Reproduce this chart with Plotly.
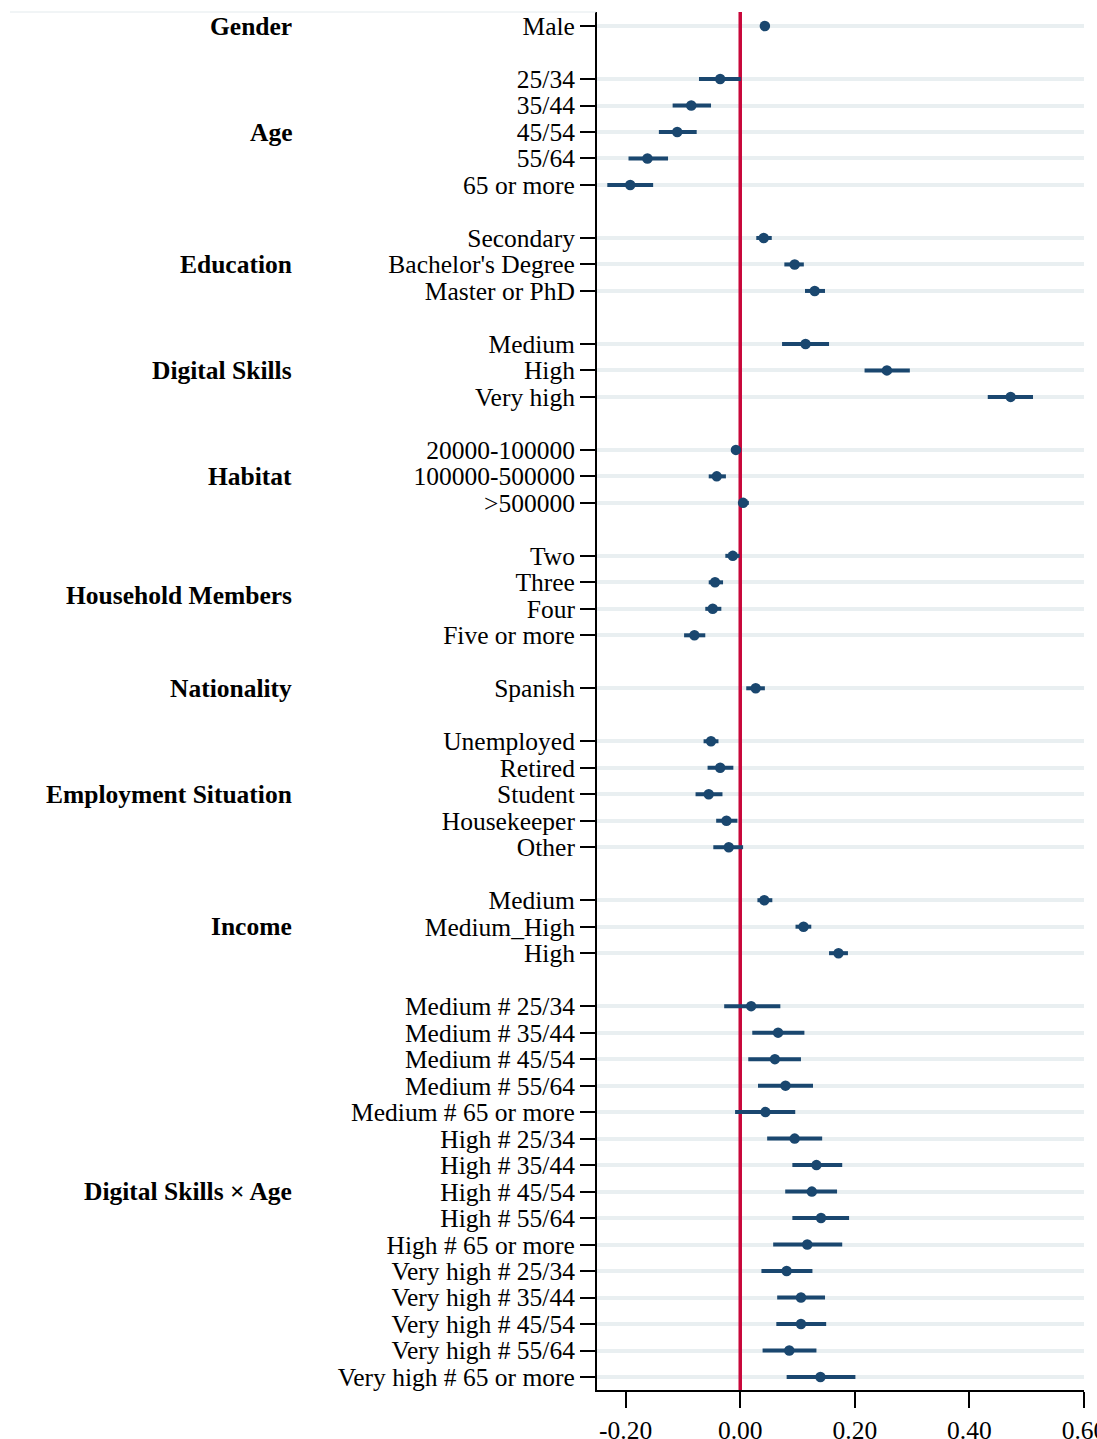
import plotly.graph_objects as go

# ---- model terms, grouped by factor ----
group_names = [
    "Gender", "Age", "Education", "Digital Skills", "Habitat",
    "Household Members", "Nationality", "Employment Situation", "Income",
    "Digital Skills × Age",
]
group_sizes = [1, 5, 3, 3, 3, 4, 1, 5, 3, 15]

terms = [
    "Male",
    "25/34", "35/44", "45/54", "55/64", "65 or more",
    "Secondary", "Bachelor's Degree", "Master or PhD",
    "Medium", "High", "Very high",
    "20000-100000", "100000-500000", ">500000",
    "Two", "Three", "Four", "Five or more",
    "Spanish",
    "Unemployed", "Retired", "Student", "Housekeeper", "Other",
    "Medium", "Medium_High", "High",
    "Medium # 25/34", "Medium # 35/44", "Medium # 45/54", "Medium # 55/64",
    "Medium # 65 or more",
    "High # 25/34", "High # 35/44", "High # 45/54", "High # 55/64",
    "High # 65 or more",
    "Very high # 25/34", "Very high # 35/44", "Very high # 45/54",
    "Very high # 55/64", "Very high # 65 or more",
]

coef = [
    0.043,
    -0.035, -0.0855, -0.110, -0.162, -0.192,
    0.041, 0.095, 0.130,
    0.114, 0.256, 0.472,
    -0.0075, -0.041, 0.005,
    -0.013, -0.044, -0.048, -0.080,
    0.027,
    -0.051, -0.035, -0.055, -0.024, -0.020,
    0.042, 0.1105, 0.1715,
    0.019, 0.066, 0.0605, 0.079, 0.044,
    0.095, 0.133, 0.125, 0.141, 0.117,
    0.081, 0.106, 0.106, 0.0856, 0.140,
]

ci_low = [
    0.037,
    -0.072, -0.118, -0.142, -0.195, -0.232,
    0.028, 0.077, 0.113,
    0.073, 0.217, 0.432,
    -0.016, -0.055, -0.001,
    -0.026, -0.055, -0.061, -0.098,
    0.0105,
    -0.064, -0.057, -0.078, -0.042, -0.047,
    0.030, 0.0965, 0.155,
    -0.028, 0.021, 0.014, 0.031, -0.009,
    0.047, 0.091, 0.0785, 0.091, 0.0575,
    0.037, 0.0645, 0.063, 0.039, 0.081,
]

ci_high = [
    0.049,
    0.001, -0.051, -0.076, -0.126, -0.152,
    0.055, 0.111, 0.148,
    0.155, 0.296, 0.511,
    0.001, -0.025, 0.015,
    -0.001, -0.030, -0.033, -0.061,
    0.043,
    -0.038, -0.012, -0.031, -0.005, 0.005,
    0.056, 0.124, 0.188,
    0.070, 0.112, 0.106, 0.127, 0.096,
    0.143, 0.178, 0.169, 0.190, 0.178,
    0.126, 0.148, 0.150, 0.133, 0.201,
]

x_tickvals = [-0.2, 0.0, 0.2, 0.4, 0.6]
x_ticktext = ["-0.20", "0.00", "0.20", "0.40", "0.60"]

# ---- row positions: one blank row between factor groups ----
positions = []
group_centers = []
row = 0
for n in group_sizes:
    rows = list(range(row, row + n))
    positions.extend(rows)
    group_centers.append(sum(rows) / n)
    row += n + 1

NAVY = "#1a476f"
RED = "#c8073a"
GRID = "#e9eff1"
FONT = "Liberation Serif"
FS = 25.5

W, H = 1097, 1439
ML, MR, MT, MB = 597, 13, 12, 49
Y_RANGE = [51.49, -0.53]

fig = go.Figure()

# reference line at zero (drawn first so the estimates sit on top)
fig.add_trace(go.Scatter(
    x=[0, 0],
    y=[Y_RANGE[1] - 1, Y_RANGE[0] + 1],
    mode="lines",
    line=dict(color=RED, width=3.5),
    showlegend=False,
    hoverinfo="skip",
))

fig.add_trace(go.Scatter(
    x=coef,
    y=positions,
    mode="markers",
    marker=dict(color=NAVY, size=10.5, line=dict(width=0)),
    error_x=dict(
        type="data",
        symmetric=False,
        array=[h - c for h, c in zip(ci_high, coef)],
        arrayminus=[c - l for c, l in zip(coef, ci_low)],
        color=NAVY,
        thickness=4,
        width=0,
    ),
    showlegend=False,
    hoverinfo="skip",
))

# thin rule across the top of the label column
plot_w = W - ML - MR
fig.add_shape(
    type="line", xref="paper", yref="paper",
    x0=(10 - ML) / plot_w, x1=-0.002, y0=1, y1=1,
    line=dict(color="#e3eaed", width=1),
)

# factor group headings
for name, yc in zip(group_names, group_centers):
    fig.add_annotation(
        x=0, xref="paper", y=yc, yref="y",
        text=f"<b>{name}</b>",
        showarrow=False,
        xanchor="right", yanchor="middle",
        xshift=-(ML - 294),
        font=dict(family=FONT, size=FS, color="black"),
    )

fig.update_layout(
    width=W, height=H,
    margin=dict(l=ML, r=MR, t=MT, b=MB, autoexpand=False),
    paper_bgcolor="white",
    plot_bgcolor="white",
    font=dict(family=FONT, size=FS, color="black"),
)

fig.update_xaxes(
    range=[-0.25, 0.6],
    tickvals=x_tickvals,
    ticktext=x_ticktext,
    ticks="outside", ticklen=16, tickwidth=2, tickcolor="black",
    ticklabeloverflow="allow",
    showline=True, linewidth=2, linecolor="black",
    showgrid=False, zeroline=False,
    tickfont=dict(family=FONT, size=FS, color="black"),
)

fig.update_yaxes(
    range=Y_RANGE,
    tickvals=positions,
    ticktext=terms,
    ticks="outside", ticklen=15, tickwidth=2, tickcolor="black",
    showline=True, linewidth=2, linecolor="black",
    showgrid=True, gridcolor=GRID, gridwidth=4,
    zeroline=False,
    tickfont=dict(family=FONT, size=FS, color="black"),
)

fig.write_html("out.html")
